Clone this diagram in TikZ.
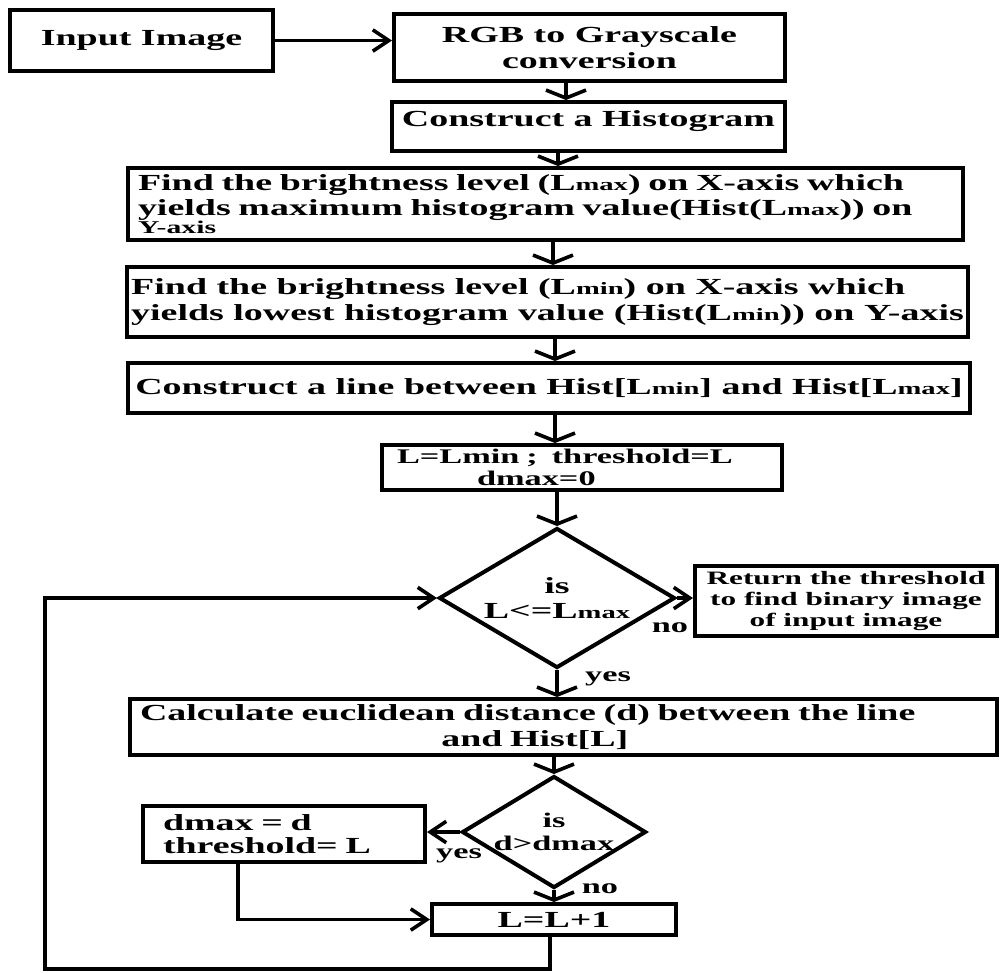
\documentclass[tikz,border=0pt]{standalone}
\usepackage{fontspec}
\setmainfont[FakeStretch=1.65]{Liberation Serif}
\usetikzlibrary{shapes.geometric,arrows.meta}
\newcommand{\lowtxt}[1]{{\fontsize{13}{13}\selectfont #1}}

\begin{document}
\begin{tikzpicture}[x=0.75pt,y=0.75pt,yscale=-1,xscale=1,
    font=\bfseries\fontsize{17.25}{19}\selectfont,
    box/.style={draw, line width=3pt, inner sep=0pt},
    decision/.style={draw, diamond, aspect=1.7, line width=3pt, inner sep=-4pt, align=center},
    varr/.style={line width=2.7pt, -{Straight Barb[length=6pt,width=30pt]}},
    harr/.style={line width=2.7pt, -{Straight Barb[length=12pt,width=16pt]}},
    lbl/.style={font=\bfseries\fontsize{15.6}{16}\selectfont}]
    \useasboundingbox (0,0) rectangle (1000,972);

    % Boxes
    \node[box, minimum width=197.25pt, minimum height=45.75pt] (inimg) at (141.5,40.5) {Input Image};
    \node[box, minimum width=293.25pt, minimum height=50.25pt, align=center] (rgb) at (589.5,47.5) {RGB to Grayscale\\conversion};
    \node[box, minimum width=294.75pt, minimum height=36.75pt, text depth=12pt] (hist) at (588.5,126.5) {Construct a Histogram};
    \node[box, minimum width=626.25pt, minimum height=54pt, text width=611.25pt, align=left] (lmax) at (545.5,204) {Find the brightness level (L\lowtxt{max}) on X-axis which\\yields maximum histogram value(Hist(L\lowtxt{max})) on\\[-6pt]{\fontsize{13.5}{13.5}\selectfont Y-axis}};
    \node[box, minimum width=630.75pt, minimum height=52.5pt, align=left] (lmin) at (547.5,302) {Find the brightness level (L\lowtxt{min}) on X-axis which\\yields lowest histogram value (Hist(L\lowtxt{min})) on Y-axis};
    \node[box, minimum width=631.5pt, minimum height=37.5pt] (line) at (549,388) {Construct a line between Hist[L\lowtxt{min}] and Hist[L\lowtxt{max}]};
    \node[box, minimum width=300pt, minimum height=33.75pt, text width=277.5pt, align=left, font=\bfseries\fontsize{15.6}{16.5}\selectfont] (init) at (582,467.5) {L=Lmin ;\ \ threshold=L\\\hspace*{60pt}dmax=0};

    % Decisions
    \node[decision, minimum width=177pt, minimum height=105pt] (dia1) at (557,598) {is\\L<=L\lowtxt{max}};
    \node[box, minimum width=226.5pt, minimum height=52.5pt, align=center, font=\bfseries\fontsize{14.2}{15.5}\selectfont] (ret) at (846,601) {Return the threshold\\to find binary image\\of input image};
    \node[box, minimum width=650.25pt, minimum height=42pt, text width=635.25pt, align=left] (calc) at (563.5,727) {Calculate euclidean distance (d) between the line\\\hspace*{226pt}and Hist[L]};
    \node[decision, minimum width=138pt, minimum height=84pt, font=\bfseries\fontsize{15.6}{17.5}\selectfont] (dia2) at (554,832) {is\\d>dmax};
    \node[box, minimum width=211.5pt, minimum height=42pt, text width=181.5pt, align=left, font=\bfseries\fontsize{17.25}{17.25}\selectfont] (dmaxb) at (284,834) {dmax = d\\threshold= L};
    \node[box, minimum width=183pt, minimum height=23.25pt] (incr) at (554,919.5) {L=L+1};

    % Text Node
    \node[lbl] (no1) at (670,628) {no};
    \node[lbl] (yes1) at (608,679) {yes};
    \node[lbl] (yes2) at (459,856) {yes};
    \node[lbl] (no2) at (600,889) {no};

    %Straight Lines
    \draw[harr] (inimg.east) -- (inimg.east -| rgb.west);
    \draw[varr] (rgb.south -| 566,0) -- (hist.north -| 566,0);
    \draw[varr] (hist.south -| 558,0) -- (lmax.north -| 558,0);
    \draw[varr] (lmax.south -| 553,0) -- (lmin.north -| 553,0);
    \draw[varr] (lmin.south -| 555,0) -- (line.north -| 555,0);
    \draw[varr] (line.south -| 555,0) -- (init.north -| 555,0);
    \draw[varr] (init.south -| dia1.north) -- (dia1.north);
    \draw[harr] (dia1.east) -- (dia1.east -| ret.west);
    \draw[varr] (dia1.south) -- (dia1.south |- calc.north);
    \draw[varr] (calc.south -| dia2.north) -- (dia2.north);
    \draw[harr] (dia2.west) -- (dia2.west -| dmaxb.east);
    \draw[varr] (dia2.south) -- (dia2.south |- incr.north);
    \draw[harr] (dmaxb.south -| 238,0) |- (incr.west);
    %loop back
    \coordinate (loopcorner) at (45,969);
    \draw[harr] (incr.south -| 550,0) |- (loopcorner) |- (dia1.west);

\end{tikzpicture}
\end{document}
